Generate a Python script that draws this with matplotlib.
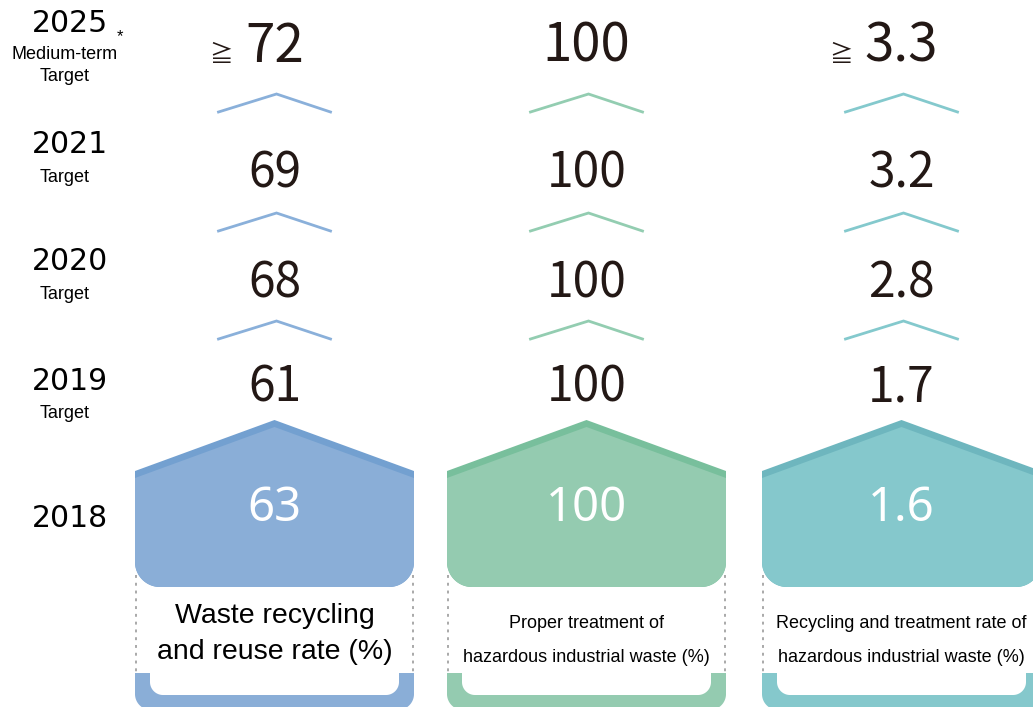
import matplotlib
matplotlib.use("Agg")
import matplotlib.pyplot as plt
import numpy as np

# ── data ──────────────────────────────────────────────────────────────
years = ["2025", "2021", "2020", "2019", "2018"]
year_notes = [["Medium-term", "Target"], ["Target"], ["Target"], ["Target"], []]
metrics = [
    ["Waste recycling", "and reuse rate (%)"],
    ["Proper treatment of", "hazardous industrial waste (%)"],
    ["Recycling and treatment rate of", "hazardous industrial waste (%)"],
]
vals_2025 = [72, 100, 3.3]
geq_2025 = [True, False, True]
vals_2021 = [69, 100, 3.2]
vals_2020 = [68, 100, 2.8]
vals_2019 = [61, 100, 1.7]
vals_2018 = [63, 100, 1.6]

# ── layout / style ───────────────────────────────────────────────────
W, H = 1033, 707
FILL = ["#8aaed7", "#94cbb0", "#85c8cc"]
BAND = ["#73a0d0", "#78bf9c", "#6eb6be"]
LINE = ["#8ab0da", "#93cdb1", "#84c9cd"]
INK = "#231815"
LEFTS = [135, 447, 762]
WIDTH = 279

NUM = ["Noto Sans CJK JP", "DejaVu Sans"]
SANS = ["Liberation Sans", "DejaVu Sans"]

fig = plt.figure(figsize=(W / 100, H / 100), dpi=100)
ax = fig.add_axes([0, 0, 1, 1])
ax.set_xlim(0, W)
ax.set_ylim(H, 0)
ax.axis("off")


def arc(cx, cy, r, a0, a1, n=30):
    t = np.radians(np.linspace(a0, a1, n))
    return np.column_stack([cx + r * np.cos(t), cy + r * np.sin(t)])


def house(left, right, apex, shoulder, bottom, r):
    cx = (left + right) / 2
    pts = [[left, shoulder], [cx, apex], [right, shoulder], [right, bottom - r]]
    pts = np.vstack([pts, arc(right - r, bottom - r, r, 0, 90),
                     arc(left + r, bottom - r, r, 90, 180), [[left, shoulder]]])
    return pts


def rbox(left, right, top, bottom, r):
    pts = np.vstack([[[left, top], [right, top]],
                     arc(right - r, bottom - r, r, 0, 90),
                     arc(left + r, bottom - r, r, 90, 180), [[left, top]]])
    return pts


def fmt(v):
    return f"{v:g}"


rows = [vals_2025, vals_2021, vals_2020, vals_2019]
row_base = [62, 188, 297, 402]
row_size = [38, 34.5, 34.5, 34.5]
chev_top = [94, 213, 321]
label_base = [[623, 659], [628, 662], [628, 662]]
label_size = [20.5, 13, 13]

for i, left in enumerate(LEFTS):
    right = left + WIDTH
    cx = left + WIDTH / 2

    # 2018 "house"
    dark = house(left, right, 420, 471, 587, 25)
    ax.fill(dark[:, 0], dark[:, 1], color=BAND[i], lw=0, zorder=2)
    light = house(left, right, 427, 478, 587, 25)
    ax.fill(light[:, 0], light[:, 1], color=FILL[i], lw=0, zorder=3)

    # base U-shape
    outer = rbox(left, right, 673, 710, 16)
    ax.fill(outer[:, 0], outer[:, 1], color=FILL[i], lw=0, zorder=2)
    inner = rbox(left + 15, right - 15, 672, 695, 13)
    ax.fill(inner[:, 0], inner[:, 1], color="white", lw=0, zorder=3)

    # dotted sides of label box
    for x in (left + 1, right - 1):
        ax.plot([x, x], [575, 673], color="#a9a9a9", lw=1.4,
                ls=(0, (1.5, 2.5)), zorder=1)

    ax.text(cx, 521, fmt(vals_2018[i]), color="white", fontsize=34,
            family=["Noto Sans", "DejaVu Sans"], ha="center", va="baseline",
            zorder=4)

    # metric label, one line at a time
    for line, yb in zip(metrics[i], label_base[i]):
        ax.text(cx, yb, line, fontsize=label_size[i], family=SANS,
                ha="center", va="baseline", color="black", zorder=4)

    # chevrons between target rows
    for ct in chev_top:
        ax.plot([cx - 56, cx + 2, cx + 56], [ct + 18, ct, ct + 18],
                color=LINE[i], lw=2, solid_joinstyle="miter", zorder=2)

    # target values
    for vals, base, fs in zip(rows, row_base, row_size):
        ax.text(cx, base, fmt(vals[i]), fontsize=fs, family=NUM, color=INK,
                ha="center", va="baseline")

# "≧" markers before 2025 values
fig.canvas.draw()
rend = fig.canvas.get_renderer()
for i, left in enumerate(LEFTS):
    if not geq_2025[i]:
        continue
    cx = left + WIDTH / 2
    t = ax.text(cx, row_base[0], fmt(vals_2025[i]), fontsize=row_size[0],
                family=NUM, alpha=0, ha="center", va="baseline")
    x0 = ax.transData.inverted().transform(t.get_window_extent(rend))[0][0]
    ax.text(x0 - 12, row_base[0], "≧", fontsize=17, family=NUM, color=INK,
            ha="right", va="baseline")

# year column
year_base = [32, 153, 270, 390, 527]
note_base = [[59, 81], [182], [299], [418], []]
for yr, notes, yb, nbs in zip(years, year_notes, year_base, note_base):
    ax.text(70, yb, yr, fontsize=21.5, family="DejaVu Sans", color="black",
            ha="center", va="baseline")
    for note, nb in zip(notes, nbs):
        ax.text(65, nb, note, fontsize=13, family=SANS, ha="center",
                va="baseline", color="black")
ax.text(117, 41, "*", fontsize=12, family=SANS, ha="left", va="baseline")

fig.savefig("out.png", dpi=100, facecolor="white")
